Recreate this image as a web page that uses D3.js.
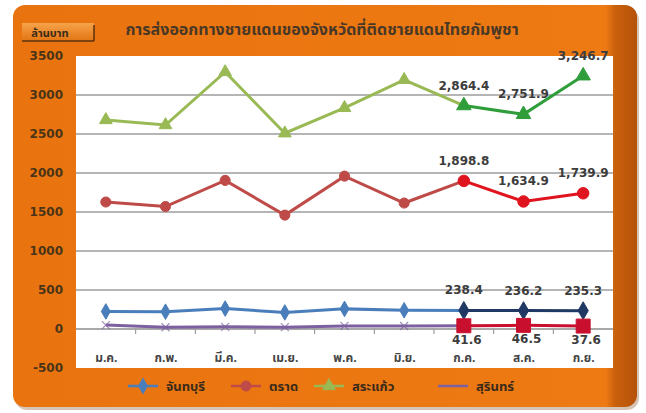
<!DOCTYPE html>
<html>
<head>
<meta charset="utf-8">
<script src="https://cdn.jsdelivr.net/npm/d3@7"></script>
<style>
  body { margin: 0; background: #fff; }
  text { font-family: Tahoma, "Noto Sans Thai", "DejaVu Sans", sans-serif; }
</style>
</head>
<body>
<script>
// months and series (ล้านบาท)
var months = ['ม.ค.', 'ก.พ.', 'มี.ค.', 'เม.ย.', 'พ.ค.', 'มิ.ย.', 'ก.ค.', 'ส.ค.', 'ก.ย.'];
var chanthaburi = [225, 222, 262, 212, 258, 240, 238.4, 236.2, 235.3];
var trat = [1628, 1570, 1905, 1460, 1960, 1615, 1898.8, 1634.9, 1739.9];
var sakaeo = [2680, 2615, 3295, 2510, 2835, 3195, 2864.4, 2751.9, 3246.7];
var surin = [50, 22, 28, 24, 40, 38, 41.6, 46.5, 37.6];
var yTicks = [3500, 3000, 2500, 2000, 1500, 1000, 500, 0, -500];
var legendNames = ['จันทบุรี', 'ตราด', 'สระแก้ว', 'สุรินทร์'];
var titleText = 'การส่งออกทางชายแดนของจังหวัดที่ติดชายแดนไทยกัมพูชา';
var unitText = 'ล้านบาท';
var hiStart = 6; // last three months get highlighted colours + labels

var W = 646, H = 413;
var plot = {left: 76, right: 613, top: 56, bottom: 368};

var svg = d3.select('body').append('svg')
  .attr('width', W).attr('height', H);

var defs = svg.append('defs');
var g1 = defs.append('linearGradient').attr('id', 'frame').attr('x1', 0).attr('x2', 1).attr('y1', 0).attr('y2', 0);
g1.append('stop').attr('offset', '0%').attr('stop-color', '#e9740f');
g1.append('stop').attr('offset', '95%').attr('stop-color', '#ee7a14');
g1.append('stop').attr('offset', '96.5%').attr('stop-color', '#c9600c');
g1.append('stop').attr('offset', '100%').attr('stop-color', '#b5520a');
var g2 = defs.append('linearGradient').attr('id', 'unit').attr('x1', 0).attr('x2', 0).attr('y1', 0).attr('y2', 1);
g2.append('stop').attr('offset', '0%').attr('stop-color', '#f6a24a');
g2.append('stop').attr('offset', '100%').attr('stop-color', '#e27512');

// frame
svg.append('rect').attr('x', 15).attr('y', 8).attr('width', 624).attr('height', 402)
  .attr('rx', 12).attr('fill', '#8a5a30').attr('opacity', 0.35);
svg.append('rect').attr('x', 13).attr('y', 5).attr('width', 624).attr('height', 402)
  .attr('rx', 12).attr('fill', 'url(#frame)');

// unit box
svg.append('rect').attr('x', 22).attr('y', 23).attr('width', 72).attr('height', 18)
  .attr('fill', 'url(#unit)');
svg.append('line').attr('x1', 22).attr('x2', 94).attr('y1', 41).attr('y2', 41)
  .attr('stroke', '#5a3210').attr('stroke-width', 1.5);
svg.append('line').attr('x1', 94).attr('x2', 94).attr('y1', 25).attr('y2', 41)
  .attr('stroke', '#5a3210').attr('stroke-width', 1.5);
svg.append('text').attr('x', 50).attr('y', 37).attr('text-anchor', 'middle')
  .attr('font-size', 11).attr('font-weight', 'bold').attr('fill', '#3a2a1a').text(unitText);

// title
svg.append('text').attr('x', 322).attr('y', 35).attr('text-anchor', 'middle')
  .attr('font-size', 16).attr('font-weight', 'bold').attr('fill', '#4a3826').text(titleText);

// plot area
svg.append('rect').attr('x', plot.left).attr('y', plot.top)
  .attr('width', plot.right - plot.left).attr('height', plot.bottom - plot.top)
  .attr('fill', '#fff');

var x = d3.scalePoint().domain(months).range([plot.left, plot.right]).padding(0.5);
var y = d3.scaleLinear().domain([-500, 3500]).range([plot.bottom, plot.top]);

// gridlines
svg.append('g').selectAll('line')
  .data(yTicks.filter(function(d) { return d > 0 && d < 3500; }))
  .enter().append('line')
  .attr('x1', plot.left).attr('x2', plot.right)
  .attr('y1', function(d) { return y(d); }).attr('y2', function(d) { return y(d); })
  .attr('stroke', '#9c9c9c').attr('stroke-width', 1.5);

// y labels
var yAxis = d3.axisLeft(y).tickValues(yTicks).tickSize(0).tickPadding(0)
  .tickFormat(function(d) { return String(d); });
var ya = svg.append('g').attr('transform', 'translate(' + 63 + ',0)').call(yAxis);
ya.select('.domain').remove();
ya.selectAll('text').attr('font-size', 12).attr('font-weight', 'bold')
  .attr('fill', '#4a3418').style('font-family', 'Tahoma, "DejaVu Sans", sans-serif');

// x axis along zero with ticks at category boundaries
var step = x.step();
svg.append('line').attr('x1', plot.left).attr('x2', plot.right)
  .attr('y1', y(0)).attr('y2', y(0)).attr('stroke', '#8c8c8c').attr('stroke-width', 1.5);
svg.append('g').selectAll('line').data(months.slice(1)).enter().append('line')
  .attr('x1', function(d) { return x(d) - step / 2; })
  .attr('x2', function(d) { return x(d) - step / 2; })
  .attr('y1', y(0)).attr('y2', y(0) + 5)
  .attr('stroke', '#8c8c8c');
var xAxis = d3.axisBottom(x).tickSize(0).tickPadding(0);
var xa = svg.append('g').attr('transform', 'translate(0,' + (y(0) + 24) + ')').call(xAxis);
xa.select('.domain').remove();
xa.selectAll('text').attr('font-size', 12).attr('font-weight', 'bold').attr('fill', '#444');

var series = [
  {name: legendNames[0], values: chanthaburi, color: '#4a7ebb', hi: '#1f3864', marker: 'diamond', labelBelow: false},
  {name: legendNames[1], values: trat, color: '#be4b48', hi: '#e0141e', marker: 'circle', labelBelow: false},
  {name: legendNames[2], values: sakaeo, color: '#98b954', hi: '#2f9e3a', marker: 'triangle', labelBelow: false},
  {name: legendNames[3], values: surin, color: '#7d60a0', hi: '#c8102e', marker: 'x', hiMarker: 'square', labelBelow: true}
];

var symbolFor = {diamond: d3.symbolDiamond, circle: d3.symbolCircle, triangle: d3.symbolTriangle, square: d3.symbolSquare};
var line = d3.line().x(function(d) { return x(d.m); }).y(function(d) { return y(d.v); });

function drawMarker(gr, m, cx, cy, color, big) {
  if (m === 'x') {
    var s = 4;
    gr.append('path').attr('d', 'M' + (cx - s) + ',' + (cy - s) + 'L' + (cx + s) + ',' + (cy + s) +
      'M' + (cx - s) + ',' + (cy + s) + 'L' + (cx + s) + ',' + (cy - s))
      .attr('stroke', color).attr('stroke-width', 1.2).attr('opacity', 0.7);
    return;
  }
  var size = {diamond: 70, circle: 80, triangle: 70, square: 150}[m];
  if (big) size = size * 1.3;
  gr.append('path').attr('d', d3.symbol().type(symbolFor[m]).size(size)())
    .attr('transform', 'translate(' + cx + ',' + cy + ')')
    .attr('fill', color).attr('stroke', color);
}

var lines = svg.append('g');
series.forEach(function(s) {
  var pts = s.values.map(function(v, i) { return {m: months[i], v: v, i: i}; });
  lines.append('path').datum(pts.slice(0, hiStart + 1)).attr('d', line)
    .attr('fill', 'none').attr('stroke', s.color).attr('stroke-width', 3);
  lines.append('path').datum(pts.slice(hiStart)).attr('d', line)
    .attr('fill', 'none').attr('stroke', s.hi).attr('stroke-width', 3);
  pts.forEach(function(p) {
    var hi = p.i >= hiStart;
    var mk = hi && s.hiMarker ? s.hiMarker : s.marker;
    drawMarker(lines, mk, x(p.m), y(p.v), hi ? s.hi : s.color, hi);
  });
  // data labels on highlighted months
  lines.selectAll(null).data(pts.slice(hiStart)).enter().append('text')
    .attr('x', function(d) { return x(d.m) + (s.labelBelow ? 3 : 0); })
    .attr('y', function(d) { return s.labelBelow ? y(d.v) + 18 : y(d.v) - 16; })
    .attr('text-anchor', 'middle').attr('font-size', 12).attr('font-weight', 'bold')
    .attr('fill', '#3c3c3c')
    .style('font-family', 'Tahoma, "DejaVu Sans", sans-serif')
    .text(function(d) { return d3.format(',.1f')(d.v); });
});

// legend
var legendX = [128, 231, 314, 438];
var leg = svg.append('g');
series.forEach(function(s, i) {
  var lx = legendX[i], ly = 386;
  leg.append('line').attr('x1', lx).attr('x2', lx + 30).attr('y1', ly).attr('y2', ly)
    .attr('stroke', s.color).attr('stroke-width', 2.5);
  if (s.marker !== 'x') drawMarker(leg, s.marker, lx + 15, ly, s.color, false);
  leg.append('text').attr('x', lx + 38).attr('y', ly + 5).attr('font-size', 13)
    .attr('font-weight', 'bold').attr('fill', '#3a2a1a').text(s.name);
});
</script>
</body>
</html>
